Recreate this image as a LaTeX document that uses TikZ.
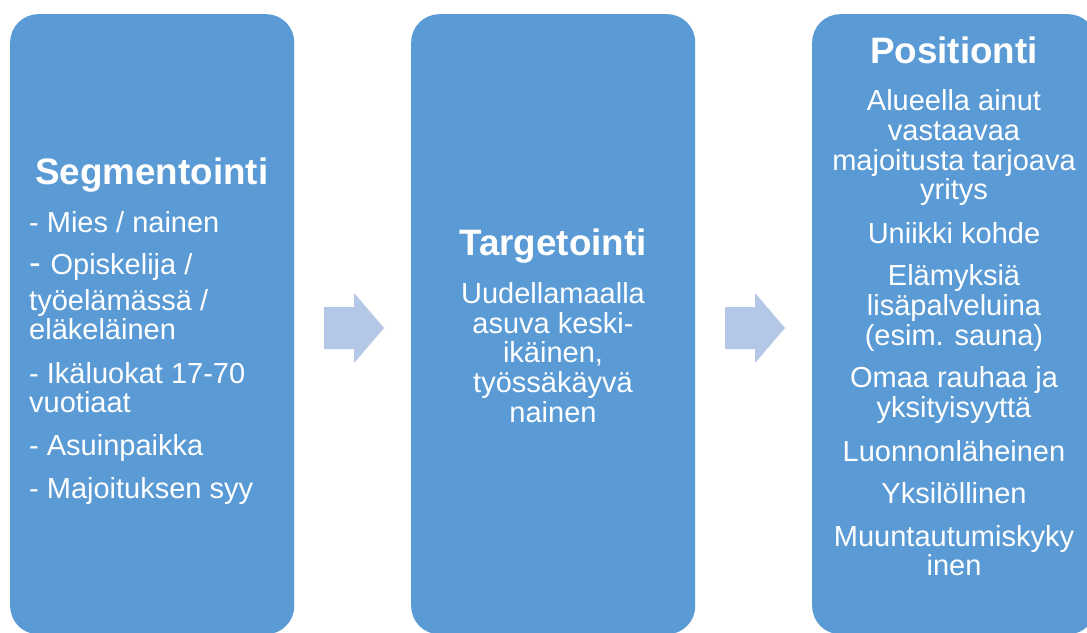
\documentclass[tikz,border=0pt]{standalone}
\usepackage{fontspec}
\setmainfont{Liberation Sans}
\definecolor{boxblue}{HTML}{5B9BD5}
\definecolor{arrowblue}{HTML}{B4C7E7}
\begin{document}
\begin{tikzpicture}[x=1pt,y=-1pt,
  panel/.style={fill=boxblue, draw=none, rounded corners=28pt, minimum width=284pt, minimum height=620pt, anchor=north west, inner sep=0pt},
  body/.style={text=white, font=\fontsize{29}{30}\selectfont, inner sep=0pt, anchor=base},
  bodyl/.style={body, anchor=base west},
  ttl/.style={text=white, font=\bfseries\fontsize{36.8}{38}\selectfont, inner sep=0pt, anchor=base},
  ttll/.style={ttl, anchor=base west},
  chev/.style={fill=arrowblue, draw=none}]
\useasboundingbox (0,0) rectangle (1087,632);
\clip (0,0) rectangle (1087,632);
% panels
\node[panel] (p1) at (10,14) {};
\node[panel] (p2) at (411,14) {};
\node[panel] (p3) at (812,14) {};
% arrows
\fill[chev] (324,307) -- (354,307) -- (354,293) -- (384,328) -- (354,363) -- (354,349) -- (324,349) -- cycle;
\fill[chev] (725,307) -- (755,307) -- (755,293) -- (785,328) -- (755,363) -- (755,349) -- (725,349) -- cycle;
% box 1
\node[ttll] (s0) at (35,184) {Segmentointi};
\node[bodyl] (s1) at (29,232) {- Mies / nainen};
\node[bodyl] (s2) at (29,274) {{\fontsize{35}{35}\selectfont - }Opiskelija /};
\node[bodyl] (s3) at (29,310) {työelämässä /};
\node[bodyl] (s4) at (29,339) {eläkeläinen};
\node[bodyl] (s5) at (29,383) {- Ikäluokat 17-70};
\node[bodyl] (s6) at (29,412) {vuotiaat};
\node[bodyl] (s7) at (29,455) {- Asuinpaikka};
\node[bodyl] (s8) at (29,498) {- Majoituksen syy};
% box 2
\node[ttl] (t0) at (553,255) {Targetointi};
\node[body] (t1) at (553,303) {Uudellamaalla};
\node[body] (t2) at (553,333) {asuva keski-};
\node[body] (t3) at (553,362) {ikäinen,};
\node[body] (t4) at (553,392) {työssäkäyvä};
\node[body] (t5) at (553,422) {nainen};
% box 3
\node[ttl] (q0) at (954,63) {Positionti};
\node[body] (q1) at (954,110) {Alueella ainut};
\node[body] (q2) at (954,140) {vastaavaa};
\node[body] (q3) at (954,170) {majoitusta tarjoava};
\node[body] (q4) at (954,199) {yritys};
\node[body] (q5) at (954,243) {Uniikki kohde};
\node[body] (q6) at (954,285) {Elämyksiä};
\node[body] (q7) at (954,315) {lisäpalveluina};
\node[body] (q8) at (954,345) {(esim. sauna)};
\node[body] (q9) at (954,387) {Omaa rauhaa ja};
\node[body] (q10) at (954,417) {yksityisyyttä};
\node[body] (q11) at (954,461) {Luonnonläheinen};
\node[body] (q12) at (954,503) {Yksilöllinen};
\node[body] (q13) at (954,546) {Muuntautumiskyky};
\node[body] (q14) at (954,575) {inen};
\end{tikzpicture}
\end{document}
